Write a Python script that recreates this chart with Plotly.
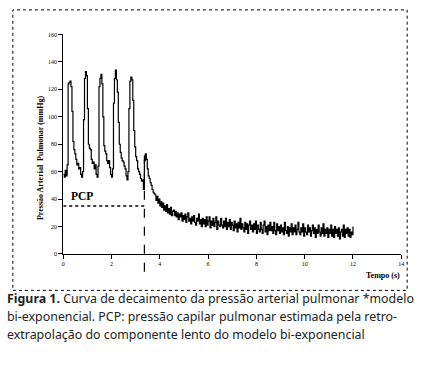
import plotly.graph_objects as go

# ---------------- data ----------------
sample_interval_s = 0.04          # one sample every 0.04 s, starting at t = 0
pressure_mmhg = [
    # 0.00 - 3.76 s : five ventricular beats, then the occlusion
    58, 56, 61, 57, 65, 124, 125, 126, 122, 104,
    82, 76, 73, 69, 65, 66, 62, 63, 58, 56,
    60, 98, 128, 133, 130, 106, 80, 77, 76, 69,
    66, 67, 62, 65, 58, 56, 64, 122, 128, 131,
    124, 100, 79, 75, 73, 68, 66, 68, 63, 58,
    56, 62, 110, 128, 134, 127, 118, 96, 80, 74,
    70, 68, 67, 64, 62, 57, 54, 60, 106, 126,
    129, 127, 112, 90, 78, 71, 68, 62, 60, 58,
    55, 53, 54, 47, 68, 73, 69, 62, 57, 55,
    52, 50, 47, 45, 44,
    # 3.80 - 12.00 s : decay
    43, 39, 42, 37, 40, 35, 38, 34, 37, 32,
    35, 31, 36, 30, 33, 29, 34, 28, 31, 32,
    28, 31, 27, 30, 25, 29, 27, 30, 24, 28,
    25, 29, 23, 27, 30, 24, 26, 22, 27, 24,
    28, 23, 21, 26, 24, 29, 22, 25, 20, 26,
    22, 25, 20, 27, 21, 24, 27, 19, 24, 21,
    26, 20, 23, 27, 18, 24, 21, 20, 26, 21,
    19, 24, 20, 26, 18, 23, 20, 25, 18, 23,
    21, 17, 24, 19, 22, 16, 23, 19, 26, 18,
    22, 19, 16, 23, 18, 22, 15, 21, 24, 18,
    21, 16, 22, 18, 24, 15, 21, 18, 16, 23,
    18, 15, 21, 24, 16, 20, 14, 21, 17, 23,
    17, 20, 15, 23, 17, 14, 22, 17, 20, 15,
    21, 16, 19, 14, 23, 17, 15, 20, 13, 19,
    16, 22, 14, 19, 16, 21, 14, 18, 23, 16,
    14, 19, 16, 22, 13, 19, 16, 14, 21, 16,
    19, 13, 17, 21, 15, 19, 12, 18, 15, 21,
    16, 13, 19, 15, 22, 13, 18, 15, 19, 12,
    18, 15, 21, 13, 18, 12, 20, 15, 18, 13,
    19, 11, 16, 18, 13, 21, 12, 18, 15, 19,
    13, 18, 12, 16, 14, 20,
]
time_s = [round(i * sample_interval_s, 2) for i in range(len(pressure_mmhg))]

pcp_value = 35          # mmHg, PCP level
occlusion_time = 3.36   # s, dashed marker
x_ticks = [0, 2, 4, 6, 8, 10, 12, 14]
y_ticks = [0, 20, 40, 60, 80, 100, 120, 140, 160]
x_range = [0, 14]
y_range = [0, 160]

# ---------------- layout geometry ----------------
W, H = 424, 380
xdom = [62 / W, 404 / W]
ydom = [1 - 255 / H, 1 - 32 / H]

def px(t):
    return xdom[0] + (t - x_range[0]) / (x_range[1] - x_range[0]) * (xdom[1] - xdom[0])

def py(v):
    return ydom[0] + (v - y_range[0]) / (y_range[1] - y_range[0]) * (ydom[1] - ydom[0])

SERIF = "Liberation Serif, Times New Roman, serif"
SANS = "Noto Sans, Open Sans, sans-serif"

fig = go.Figure()
fig.add_trace(go.Scatter(
    x=time_s, y=pressure_mmhg, mode="lines",
    line=dict(color="black", width=1.2, shape="hv"),
    showlegend=False, hoverinfo="skip",
))

axis_common = dict(
    showline=True, linecolor="black", linewidth=1,
    ticks="outside", ticklen=4, tickwidth=1, tickcolor="black",
    showgrid=False, zeroline=False,
    tickfont=dict(family=SERIF, size=6, color="black"),
)
fig.update_layout(
    width=W, height=H,
    margin=dict(l=0, r=0, t=0, b=0),
    paper_bgcolor="white", plot_bgcolor="white",
    xaxis=dict(domain=xdom, range=x_range, tickvals=x_ticks, **axis_common),
    yaxis=dict(domain=ydom, range=y_range, tickvals=y_ticks, **axis_common),
)

shapes = [
    # dotted frame around the chart
    dict(type="rect", xref="paper", yref="paper",
         x0=11 / W, x1=410 / W, y0=1 - 292 / H, y1=1 - 7 / H,
         line=dict(color="black", width=1, dash="dot")),
    # PCP dotted level
    dict(type="line", xref="x", yref="y",
         x0=x_range[0], x1=occlusion_time, y0=pcp_value, y1=pcp_value,
         line=dict(color="black", width=1.6, dash="dot")),
    # dashed occlusion marker (extends below the axis)
    dict(type="line", xref="paper", yref="paper",
         x0=px(occlusion_time), x1=px(occlusion_time), y0=py(-13), y1=py(72),
         line=dict(color="black", width=1.2, dash="dash")),
]
fig.update_layout(shapes=shapes)

annotations = [
    dict(text="<b>PCP</b>", xref="paper", yref="paper", x=px(0.22), y=py(42),
         xanchor="left", yanchor="middle", showarrow=False,
         font=dict(family=SERIF, size=11.5, color="black")),
    dict(text="<b>Pressão Arterial  Pulmonar (mmHg)</b>", xref="paper", yref="paper",
         x=39 / W, y=1 - 158 / H, textangle=-90, showarrow=False,
         xanchor="center", yanchor="middle",
         font=dict(family=SERIF, size=8, color="black")),
    dict(text="<b>Tempo (s)</b>", xref="paper", yref="paper",
         x=405 / W, y=1 - 277 / H, showarrow=False,
         xanchor="right", yanchor="middle",
         font=dict(family=SERIF, size=8, color="black")),
]
caption_lines = [
    "<b>Figura 1.</b> Curva de decaimento da pressão arterial pulmonar *modelo",
    "bi-exponencial. PCP: pressão capilar pulmonar estimada pela retro-",
    "extrapolação do componente lento do modelo bi-exponencial",
]
caption_y = [300, 319, 337]
for line, yc in zip(caption_lines, caption_y):
    annotations.append(dict(
        text=line, xref="paper", yref="paper", x=3 / W, y=1 - yc / H,
        xanchor="left", yanchor="middle", showarrow=False, align="left",
        font=dict(family=SANS, size=12.4, color="#222222"),
    ))
fig.update_layout(annotations=annotations)

fig.write_html("out.html", config={"displayModeBar": False},
               post_script="document.body.style.margin='0';")
